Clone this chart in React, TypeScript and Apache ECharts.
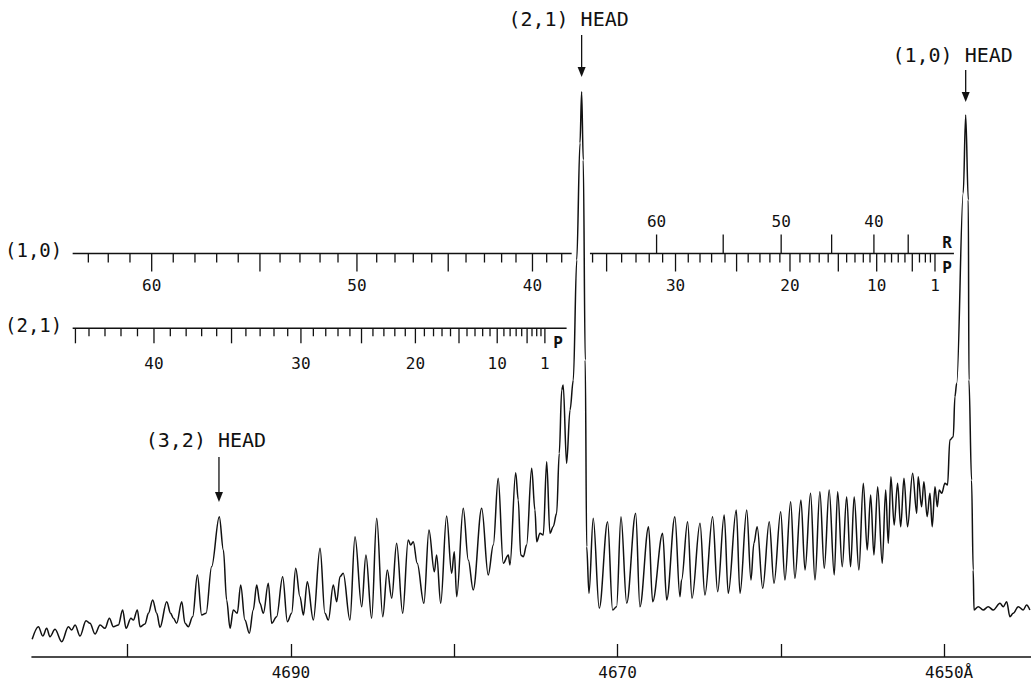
import React, { useEffect, useRef } from "react";
import * as echarts from "echarts";

// ---------- data ----------
const wavelengthTicks = [4650, 4660, 4670, 4680, 4690, 4700];
const wavelengthLabels = [4650, 4670, 4690];

// [wavelength (Å), relative intensity]
const spectrum: [number, number][] = [
  [4705.85, 17.7], [4705.47, 30.3], [4705.2, 21], [4704.96, 28.7], [4704.76, 20.3], [4704.45, 27.7],
  [4704.04, 15.3], [4703.63, 30.3], [4703.43, 27], [4703.22, 32], [4702.92, 21], [4702.55, 36.3],
  [4702.31, 33.7], [4702.0, 23], [4701.69, 32], [4701.39, 28.7], [4701.12, 38.7], [4700.88, 30.3],
  [4700.57, 32], [4700.31, 47], [4700.1, 28.7], [4699.8, 38.7], [4699.65, 37], [4699.41, 47],
  [4699.24, 30.3], [4698.94, 33], [4698.73, 43.7], [4698.47, 57], [4698.22, 43.7], [4698.02, 29.7],
  [4697.61, 55.3], [4697.37, 43.7], [4697.2, 38.7], [4697.0, 33.7], [4696.69, 55.3], [4696.49, 33.7],
  [4696.29, 30.3], [4696.02, 40.3], [4695.73, 82], [4695.47, 42], [4695.2, 43.7], [4694.86, 90.3],
  [4694.39, 140.3], [4694.14, 107], [4693.94, 57], [4693.73, 28.7], [4693.53, 47], [4693.29, 43.7],
  [4693.08, 72], [4692.82, 37], [4692.55, 23.7], [4692.31, 47], [4692.1, 72], [4691.9, 53.7],
  [4691.69, 43.7], [4691.39, 73.7], [4691.18, 33.7], [4690.88, 40.3], [4690.51, 80.3], [4690.22, 35.3],
  [4689.96, 43.7], [4689.71, 88.7], [4689.45, 60.3], [4689.24, 42], [4689.0, 75.3], [4688.63, 37],
  [4688.22, 108.7], [4687.92, 43.7], [4687.71, 37],
  [4687.41, 72], [4687.2, 55.3], [4687.0, 80.3], [4686.8, 83.7], [4686.39, 37], [4686.08, 120.3],
  [4685.67, 50.3], [4685.41, 102], [4685.06, 38.7], [4684.75, 138.7], [4684.38, 40.3], [4684.1, 87],
  [4683.83, 58.7], [4683.53, 113.7], [4683.16, 43.7], [4682.82, 117], [4682.67, 112], [4682.51, 115.3],
  [4682.27, 93.7], [4681.86, 53.7], [4681.55, 127], [4681.22, 85.3], [4681.08, 102], [4680.83, 53.7],
  [4680.47, 141], [4680.16, 83.7], [4680.0, 105.3], [4679.85, 60.3], [4679.45, 148.7], [4679.14, 97],
  [4678.84, 67], [4678.32, 148.7], [4677.92, 82], [4677.61, 112], [4677.31, 178.7], [4677.0, 93.7],
  [4676.69, 102], [4676.59, 92], [4676.24, 184.3], [4676.08, 157], [4675.93, 102], [4675.77, 100.3],
  [4675.57, 112], [4675.26, 188.7], [4675.06, 147], [4674.95, 115.3], [4674.75, 123.7], [4674.55, 122],
  [4674.34, 195.3], [4674.14, 123.7], [4673.94, 130.3], [4673.73, 143.7], [4673.57, 203.7], [4673.42, 267],
  [4673.33, 272], [4673.12, 193.7], [4672.91, 247], [4672.71, 277], [4672.5, 397], [4672.3, 514],
  [4672.2, 565.3], [4672.1, 497], [4671.98, 297], [4671.89, 110.3], [4671.75, 63.7],
  [4671.49, 138.7], [4671.12, 48.7], [4670.61, 135.3], [4670.3, 47], [4670.06, 50.3], [4669.79, 140.3],
  [4669.44, 53.7], [4668.89, 143.7], [4668.63, 50.3], [4668.1, 130.3], [4667.85, 55.3], [4667.24, 123.7],
  [4666.99, 57], [4666.49, 140.3], [4666.18, 60.3], [4666.08, 77], [4665.71, 135.3], [4665.44, 58.7],
  [4664.95, 133.7], [4664.65, 62], [4664.18, 140.3], [4663.87, 65.3], [4663.47, 142], [4663.22, 63.7],
  [4662.73, 147], [4662.5, 63.7], [4662.09, 147], [4661.83, 77], [4661.65, 113.7], [4661.45, 130.3],
  [4661.11, 68.7], [4660.71, 135.3], [4660.42, 73.7], [4660.01, 145.3], [4659.75, 77], [4659.4, 155.3],
  [4659.14, 78.7], [4658.77, 157], [4658.52, 87], [4658.18, 163.7], [4657.91, 77], [4657.61, 165.3],
  [4657.34, 88.7], [4657.04, 167], [4656.73, 82], [4656.52, 165.3], [4656.24, 90.3], [4655.97, 160.3],
  [4655.73, 90.3], [4655.51, 160.3], [4655.22, 87], [4654.95, 173.7], [4654.71, 107], [4654.5, 162],
  [4654.3, 102], [4654.07, 170.3], [4653.79, 93.7], [4653.58, 167], [4653.42, 113.7], [4653.26, 180.3],
  [4653.06, 132], [4652.85, 173.7], [4652.66, 130.3], [4652.46, 178.7], [4652.24, 130.3], [4651.93, 183.7],
  [4651.68, 143.7], [4651.59, 180.3], [4651.38, 150.3], [4651.24, 175.3], [4651.04, 140.3], [4650.87, 163.7],
  [4650.73, 130.3], [4650.56, 170.3], [4650.42, 150.3], [4650.3, 167], [4650.15, 163.7], [4649.95, 173.7],
  [4649.79, 172], [4649.65, 217], [4649.44, 220.3], [4649.34, 260.3], [4649.23, 273.7], [4648.83, 464],
  [4648.68, 542], [4648.52, 457], [4648.48, 277], [4648.32, 177], [4648.22, 87], [4648.17, 47],
  [4647.91, 50.3], [4647.61, 47], [4647.3, 50.3], [4646.99, 47], [4646.58, 53.7], [4646.38, 50.3],
  [4646.17, 55.3], [4645.97, 40.3], [4645.77, 43.7], [4645.46, 50.3], [4645.16, 47], [4644.95, 52],
  [4644.75, 47],
];

// Fortrat scales: [J, wavelength]
const band10P: [number, number][] = [
  [1, 4650.56], [2, 4650.84], [3, 4651.15], [4, 4651.51], [5, 4651.95], [6, 4652.4], [7, 4652.81],
  [8, 4653.22], [9, 4653.63], [10, 4654.13], [11, 4654.54], [12, 4654.95], [13, 4655.46], [14, 4655.97],
  [15, 4656.48], [16, 4657.1], [17, 4657.65], [18, 4658.22], [19, 4658.83], [20, 4659.44], [21, 4660.06],
  [22, 4660.67], [23, 4661.28], [24, 4662.0], [25, 4662.71], [26, 4663.42], [27, 4664.24], [28, 4664.95],
  [29, 4665.67], [30, 4666.45], [31, 4667.24], [32, 4668.06], [33, 4668.87], [34, 4669.75], [35, 4670.67],
  [36, 4671.53], [38, 4673.42], [39, 4674.34], [40, 4675.21], [41, 4676.22], [42, 4677.1], [43, 4678.15],
  [44, 4679.28], [45, 4680.37], [46, 4681.38], [47, 4682.51], [48, 4683.63], [49, 4684.75], [50, 4685.96],
  [51, 4687.12], [52, 4688.22], [53, 4689.45], [54, 4690.67], [55, 4691.9], [56, 4693.23], [57, 4694.55],
  [58, 4695.88], [59, 4697.21], [60, 4698.53], [61, 4699.86], [62, 4701.19], [63, 4702.41],
];
const band10R: [number, number][] = [
  [35, 4652.2], [40, 4654.3], [45, 4656.89], [50, 4659.98], [55, 4663.53], [60, 4667.61],
];
const band21P: [number, number][] = [
  [1, 4674.45], [2, 4674.69], [3, 4674.95], [4, 4675.24], [5, 4675.54], [6, 4675.87], [7, 4676.21],
  [8, 4676.58], [9, 4676.96], [10, 4677.37], [11, 4677.81], [12, 4678.26], [13, 4678.73], [14, 4679.22],
  [15, 4679.71], [16, 4680.23], [17, 4680.75], [18, 4681.27], [19, 4681.83], [20, 4682.38], [21, 4683.0],
  [22, 4683.64], [23, 4684.31], [24, 4684.98], [25, 4685.68], [26, 4686.39], [27, 4687.12], [28, 4687.87],
  [29, 4688.63], [30, 4689.39], [31, 4690.2], [32, 4691.04], [33, 4691.89], [34, 4692.76], [35, 4693.64],
  [36, 4694.55], [37, 4695.47], [38, 4696.42], [39, 4697.39], [40, 4698.39], [41, 4699.4], [42, 4700.41],
  [43, 4701.39], [44, 4702.37], [45, 4703.2],
];
const band10PLabels = [1, 10, 20, 30, 40, 50, 60];
const band10RLabels = [40, 50, 60];
const band21PLabels = [1, 10, 20, 30, 40];

// wavelength extents of the drawn scale lines
const scale10Segments: [number, number][] = [[4703.37, 4672.81], [4671.69, 4649.4]];
const scale21Segments: [number, number][] = [[4703.37, 4673.12]];

const heads = [
  { label: "(3,2) HEAD", lambda: 4694.41 },
  { label: "(2,1) HEAD", lambda: 4672.2 },
  { label: "(1,0) HEAD", lambda: 4648.68 },
];

// ---------- layout / style ----------
const FONT = "'DejaVu Sans Mono', monospace";
const INK = "#111111";
const headLayout = [
  { textI: 217, topI: 200, tipI: 155 },
  { textI: 638, topI: 622, tipI: 580 },
  { textI: 602, topI: 587, tipI: 555 },
];
const scale10 = { base: 403.5 };
const scale21 = { base: 328.7 };

function measure(text: string, font: string): number {
  const ctx = document.createElement("canvas").getContext("2d");
  if (!ctx) return text.length * 12;
  ctx.font = font;
  return ctx.measureText(text).width;
}

function txt(text: string, x: number, y: number, font: string, align = "center", vAlign = "middle") {
  return {
    type: "text",
    style: {
      text, x, y, font, fill: INK,
      textAlign: align, textVerticalAlign: vAlign, align, verticalAlign: vAlign,
    },
  };
}

function tickSeries(name: string, pairs: [number, number][], base: number, dir: number,
  shortLen: number, longLen: number, labelOffset: number, labeled: number[]) {
  return {
    type: "custom", name, silent: true, clip: false, z: 3,
    data: pairs.map(([J, lam]) => [lam, J]),
    encode: { x: 0, y: 1 },
    renderItem: (_p: any, api: any) => {
      const lam = api.value(0) as number;
      const J = api.value(1) as number;
      const p = api.coord([lam, base]);
      const isLong = J === 1 || J % 5 === 0;
      const len = isLong ? longLen : shortLen;
      const children: any[] = [{
        type: "line",
        shape: { x1: p[0], y1: p[1], x2: p[0], y2: p[1] + dir * len },
        style: { stroke: INK, lineWidth: 1.3 },
      }];
      if (labeled.indexOf(J) >= 0) children.push(txt(String(J), p[0], p[1] + labelOffset, `16px ${FONT}`));
      return { type: "group", children };
    },
  };
}

function segmentSeries(name: string, segs: [number, number][], base: number) {
  return {
    type: "custom", name, silent: true, clip: false, z: 3,
    data: segs.map(([a, b]) => [a, b]),
    encode: { x: [0, 1] },
    renderItem: (_p: any, api: any) => {
      const a = api.coord([api.value(0), base]);
      const b = api.coord([api.value(1), base]);
      return {
        type: "line",
        shape: { x1: a[0], y1: a[1], x2: b[0], y2: b[1] },
        style: { stroke: INK, lineWidth: 1.5 },
      };
    },
  };
}

export default function App() {
  const ref = useRef<HTMLDivElement>(null);
  useEffect(() => {
    document.body.style.margin = "0";
    if (!ref.current) return;
    const chart = echarts.init(ref.current, null, { renderer: "svg" });
    const headFont = `20px ${FONT}`;
    const option: any = {
      animation: false,
      backgroundColor: "#ffffff",
      grid: { left: 32, right: 0, top: 0, bottom: 24 },
      xAxis: {
        type: "value",
        inverse: true,
        min: 4644.68,
        max: 4705.86,
        axisLine: { show: true, lineStyle: { color: INK, width: 1.6 } },
        axisTick: { show: true, inside: true, length: 13, customValues: wavelengthTicks, lineStyle: { color: INK, width: 1.3 } },
        axisLabel: {
          show: true,
          customValues: wavelengthLabels,
          margin: 7,
          color: INK,
          fontSize: 16,
          fontFamily: FONT,
          formatter: (v: number) => (v === 4650 ? "{a|4650Å}" : String(v)),
          rich: { a: { padding: [0, 0, 0, 10], fontSize: 16, fontFamily: FONT, color: INK } },
        },
        splitLine: { show: false },
      },
      yAxis: { type: "value", min: 0, max: 657, show: false, splitLine: { show: false } },
      series: [
        {
          type: "line",
          name: "spectrum",
          data: spectrum,
          showSymbol: false,
          smooth: 0.35,
          smoothMonotone: "x",
          lineStyle: { color: INK, width: 1.5 },
          silent: true,
          z: 4,
        },
        segmentSeries("scale10", scale10Segments, scale10.base),
        segmentSeries("scale21", scale21Segments, scale21.base),
        tickSeries("(1,0) P", band10P, scale10.base, 1, 9, 18, 32, band10PLabels),
        tickSeries("(1,0) R", band10R, scale10.base, -1, 19, 19, -32, band10RLabels),
        tickSeries("(2,1) P", band21P, scale21.base, 1, 8, 15, 35, band21PLabels),
        {
          type: "custom", name: "heads", silent: true, clip: false, z: 5,
          data: heads.map((h, i) => [h.lambda, i]),
          encode: { x: 0, y: 1 },
          renderItem: (_p: any, api: any) => {
            const lam = api.value(0) as number;
            const i = api.value(1) as number;
            const lay = headLayout[i];
            const label = heads[i].label;
            const t = api.coord([lam, lay.textI]);
            const top = api.coord([lam, lay.topI]);
            const tip = api.coord([lam, lay.tipI]);
            const prefix = label.slice(0, label.indexOf("HEAD"));
            const off = measure(prefix, headFont);
            return {
              type: "group",
              children: [
                txt(label, t[0] - off - 1, t[1], headFont, "left"),
                { type: "line", shape: { x1: top[0], y1: top[1], x2: tip[0], y2: tip[1] - 6 }, style: { stroke: INK, lineWidth: 1.3 } },
                { type: "polygon", shape: { points: [[tip[0] - 4, tip[1] - 10], [tip[0] + 4, tip[1] - 10], [tip[0], tip[1]]] }, style: { fill: INK } },
              ],
            };
          },
        },
      ],
      graphic: [
        txt("(1,0)", 5, 250, `19px ${FONT}`, "left"),
        txt("(2,1)", 5, 325, `19px ${FONT}`, "left"),
        txt("R", 947, 242, `bold 16px ${FONT}`),
        txt("P", 947, 267, `bold 16px ${FONT}`),
        txt("P", 558, 342, `bold 16px ${FONT}`),
      ],
    };
    chart.setOption(option);
    return () => chart.dispose();
  }, []);
  return <div ref={ref} style={{ width: 1031, height: 681, background: "#fff" }} />;
}
